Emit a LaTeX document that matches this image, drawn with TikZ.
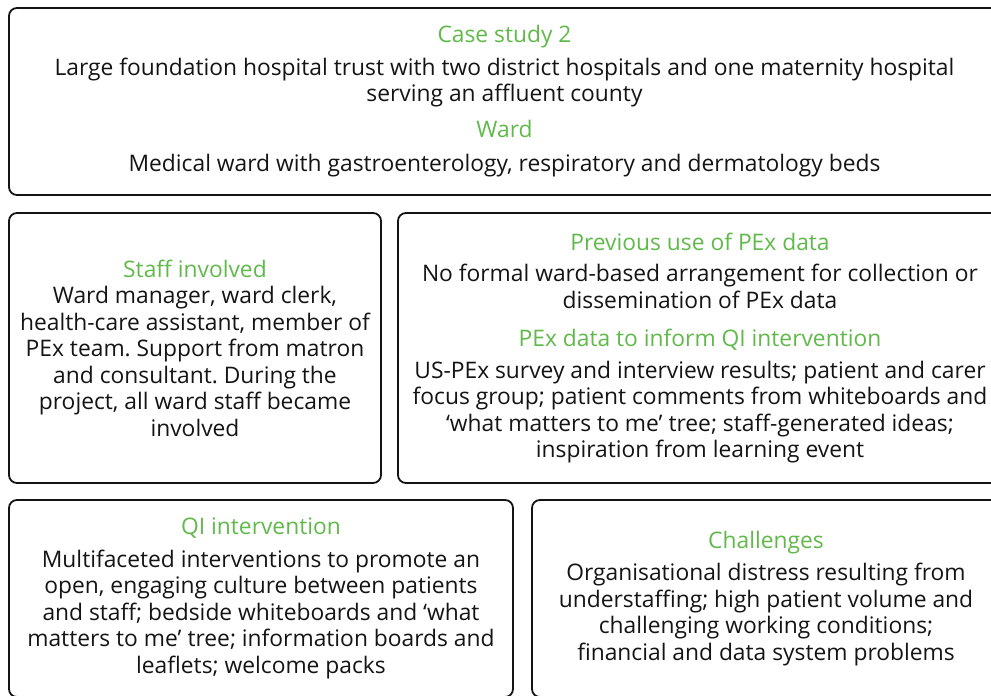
\documentclass[tikz,border=0pt]{standalone}
\usepackage{fontspec}
\setmainfont{Open Sans}
\usepackage{tikz}
\usetikzlibrary{positioning}

\definecolor{headgreen}{RGB}{96,185,74}
\definecolor{bodyblack}{RGB}{20,20,20}
\newcommand{\head}[1]{\textcolor{headgreen}{#1}}
\frenchspacing

\begin{document}
\begin{tikzpicture}[x=1pt,y=1pt,
  panel/.style={draw=bodyblack, line width=1.8pt, rounded corners=8pt,
    align=center, inner sep=0pt, text=bodyblack,
    font=\fontsize{22.8}{26.5}\selectfont}]

\useasboundingbox (0,0) rectangle (991,696);
\clip (0,0) rectangle (991,696);

% top row
\node[panel, minimum width=991pt, minimum height=187pt] (case) at (504.5,594.5)
  {\head{Case study 2}\\[6pt]
   Large foundation hospital trust with two district hospitals and one maternity hospital\\
   serving an affluent county\\[9pt]
   \head{Ward}\\[8pt]
   Medical ward with gastroenterology, respiratory and dermatology beds};

% middle row
\node[panel, minimum width=372pt, minimum height=270pt] (staff) at (195,348)
  {\head{Staff involved}\\
   Ward manager, ward clerk,\\
   health-care assistant, member of\\
   PEx team. Support from matron\\
   and consultant. During the\\
   project, all ward staff became\\
   involved};

\node[panel, minimum width=604pt, minimum height=270pt] (pex) at (700,348)
  {\head{Previous use of PEx data}\\[5pt]
   No formal ward-based arrangement for collection or\\
   dissemination of PEx data\\[12pt]
   \head{PEx data to inform QI intervention}\\[5pt]
   US-PEx survey and interview results; patient and carer\\
   focus group; patient comments from whiteboards and\\
   `what matters to me' tree; staff-generated ideas;\\
   inspiration from learning event};

% bottom row
\node[panel, minimum width=504pt, minimum height=197pt] (qi) at (261,97.5)
  {\head{QI intervention}\\[6pt]
   Multifaceted interventions to promote an\\
   open, engaging culture between patients\\
   and staff; bedside whiteboards and `what\\
   matters to me' tree; information boards and\\
   leaflets; welcome packs};

\node[panel, minimum width=468pt, minimum height=197pt] (chal) at (766,97.5)
  {\head{Challenges}\\[6pt]
   Organisational distress resulting from\\
   understaffing; high patient volume and\\
   challenging working conditions;\\
   financial and data system problems};

\end{tikzpicture}
\end{document}
